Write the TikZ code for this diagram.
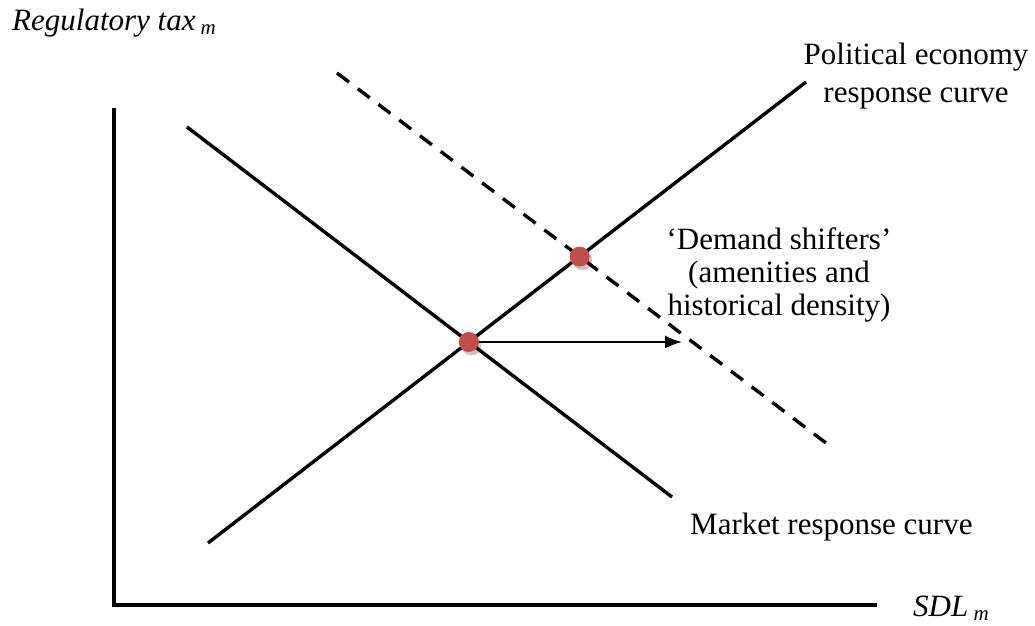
\documentclass[tikz,border=0pt]{standalone}
\usepackage{fontspec}
\setmainfont{Liberation Serif}
\usetikzlibrary{arrows.meta}
\definecolor{dotred}{RGB}{192,80,77}
\newcommand{\subm}{\,{\fontsize{21}{21}\selectfont\raisebox{-4pt}{\textit{m}}}}
\tikzset{curve/.style={draw=black,line width=3.4pt},
 shifted/.style={curve,dash pattern=on 15pt off 11pt},
 axis/.style={draw=black,line width=3.8pt},
 eqdot/.style={circle,fill=dotred,inner sep=0pt,minimum size=20pt},
 eqshade/.style={circle,fill=dotred!60!black,opacity=.3,inner sep=0pt,minimum size=20pt},
 txt/.style={inner sep=0pt,font=\fontsize{31}{38}\selectfont},
 every picture/.style={x=1pt,y=-1pt}}

\begin{document}
\begin{tikzpicture}
\useasboundingbox (0,0) rectangle (1035,625);
% axes
\coordinate (origin) at (114,605);
\coordinate (ytop) at (114,108);
\coordinate (xend) at (877,605);
% curves
\coordinate (mkt1) at (187,127);
\coordinate (mkt2) at (672,497);
\coordinate (pe1) at (208,543);
\coordinate (pe2) at (806,82);
\coordinate (dem1) at (337,73);
\coordinate (dem2) at (826,443);
\coordinate (eq) at (intersection of mkt1--mkt2 and pe1--pe2);
\coordinate (neweq) at (intersection of dem1--dem2 and pe1--pe2);
\coordinate (shiftend) at (682,0);
\draw[axis] (ytop) -- (origin) -- (xend);
\draw[curve] (mkt1) -- (mkt2);
\draw[curve] (pe1) -- (pe2);
\draw[shifted] (dem1) -- (dem2);
\draw[line width=1.8pt,-{Latex[length=17pt,width=13pt]}] (eq) -- (eq -| shiftend);
\node[eqshade] at ([shift={(2.5,3.5)}]eq) {};
\node[eqdot] (eqdot) at (eq) {};
\node[eqshade] at ([shift={(2.5,3.5)}]neweq) {};
\node[eqdot] (neweqdot) at (neweq) {};
% labels
\node[txt,anchor=base west] (ytitle) at (12,30) {\textit{Regulatory tax}\subm};
\node[txt,anchor=base west] (xtitle) at (913,616) {\textit{SDL}\subm};
\node[txt,align=center,anchor=north] (pelabel) at (916,43) {Political economy\\response curve};
\node[txt,align=center,anchor=north,font=\fontsize{31}{33}\selectfont] (shiftlabel) at (779,227) {‘Demand shifters’\\(amenities and\\historical density)};
\node[txt,anchor=base west] (mktlabel) at (690,534) {Market response curve};
\end{tikzpicture}
\end{document}
